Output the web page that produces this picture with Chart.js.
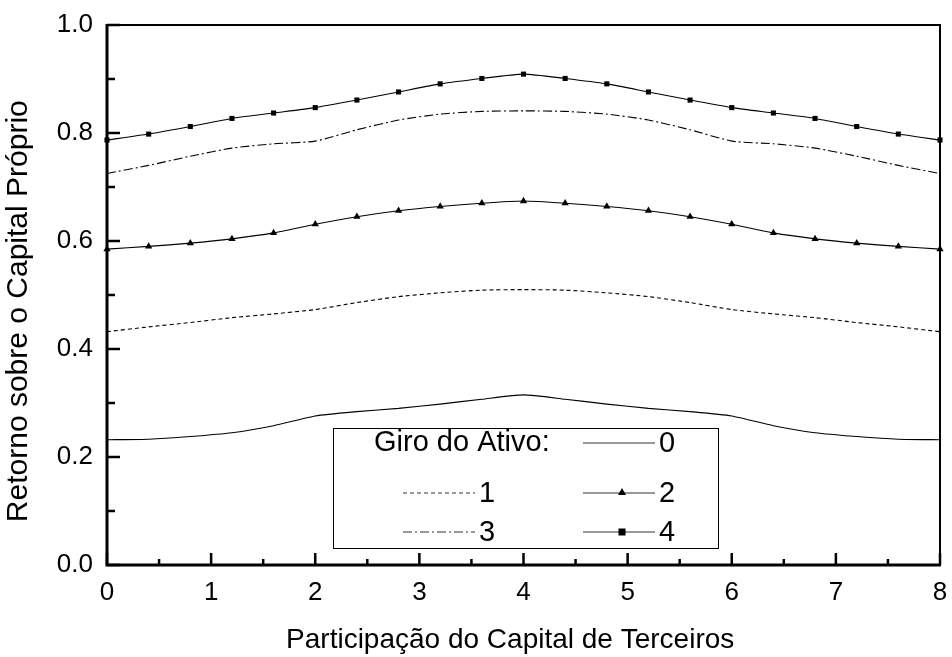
<!DOCTYPE html>
<html>
<head>
<meta charset="utf-8">
<script src="https://cdn.jsdelivr.net/npm/chart.js@4"></script>
<style>
html,body{margin:0;padding:0;background:#fff;}
#wrap{width:952px;height:657px;}
</style>
</head>
<body>
<div id="wrap"><canvas id="c" width="952" height="657"></canvas></div>
<script>
// ---- data ----
const xValues = [0,0.4,0.8,1.2,1.6,2.0,2.4,2.8,3.2,3.6,4.0,4.4,4.8,5.2,5.6,6.0,6.4,6.8,7.2,7.6,8.0];
const giro0 = [0.232,0.233,0.238,0.245,0.258,0.276,0.284,0.290,0.298,0.307,0.315,0.307,0.298,0.290,0.284,0.276,0.258,0.245,0.238,0.233,0.232];
const giro1 = [0.432,0.441,0.449,0.458,0.465,0.473,0.486,0.497,0.504,0.509,0.510,0.509,0.504,0.497,0.486,0.473,0.465,0.458,0.449,0.441,0.432];
const giro2 = [0.585,0.590,0.596,0.604,0.615,0.631,0.645,0.656,0.664,0.670,0.674,0.670,0.664,0.656,0.645,0.631,0.615,0.604,0.596,0.590,0.585];
const giro3 = [0.725,0.740,0.757,0.772,0.780,0.785,0.806,0.824,0.835,0.840,0.841,0.840,0.835,0.824,0.806,0.785,0.780,0.772,0.757,0.740,0.725];
const giro4 = [0.787,0.798,0.812,0.827,0.837,0.847,0.861,0.876,0.891,0.901,0.909,0.901,0.891,0.876,0.861,0.847,0.837,0.827,0.812,0.798,0.787];
const seriesLabels = ['0','1','2','3','4'];
const legendTitle = 'Giro do Ativo:';
const xTitle = 'Participação do Capital de Terceiros';
const yTitle = 'Retorno sobre o Capital Próprio';

const FONT = "'Liberation Sans', Arial, sans-serif";
const pts = arr => arr.map((v,i)=>({x:xValues[i], y:v}));

const styles = [
  {dash:[], point:false},
  {dash:[4,3], point:false},
  {dash:[], point:'triangle'},
  {dash:[9,3,2,3], point:false},
  {dash:[], point:'rect'}
];
const allSeries = [giro0,giro1,giro2,giro3,giro4];

const datasets = allSeries.map((arr,i)=>({
  label: seriesLabels[i],
  data: pts(arr),
  borderColor:'#000',
  backgroundColor:'#000',
  borderWidth:1.1,
  borderDash: styles[i].dash,
  pointStyle: styles[i].point || 'circle',
  pointRadius: styles[i].point ? (styles[i].point==='rect'?3.6:4.2) : 0,
  pointBorderWidth:0,
  tension:0.2,
  clip:false
}));

const framePlugin = {
  id:'frame',
  afterDatasetsDraw(chart){
    const {ctx, chartArea:a, scales} = chart;
    ctx.save();
    ctx.strokeStyle='#000';
    // frame
    ctx.lineWidth=2;
    ctx.strokeRect(a.left, a.top, a.right-a.left, a.bottom-a.top);
    ctx.lineWidth=3;
    ctx.beginPath();
    ctx.moveTo(a.left, a.top-1); ctx.lineTo(a.left, a.bottom);
    ctx.lineTo(a.right+1, a.bottom);
    ctx.stroke();
    // ticks inward
    ctx.lineWidth=2.5;
    for(let v=0; v<=8.0001; v+=0.5){
      const px = scales.x.getPixelForValue(v);
      const major = Math.abs(v-Math.round(v))<1e-6;
      const len = major?12:6;
      ctx.beginPath(); ctx.moveTo(px, a.bottom); ctx.lineTo(px, a.bottom-len); ctx.stroke();
    }
    for(let k=0;k<=10;k++){
      const v=k/10;
      const py = scales.y.getPixelForValue(v);
      const len = (k%2===0)?13:8;
      ctx.beginPath(); ctx.moveTo(a.left, py); ctx.lineTo(a.left+len, py); ctx.stroke();
    }
    // axis titles
    ctx.fillStyle='#000';
    ctx.textBaseline='middle';
    ctx.textAlign='center';
    ctx.font = "28px " + FONT;
    ctx.fillText(xTitle, a.left + (a.right-a.left)*0.484, a.bottom + 75);
    ctx.save();
    ctx.translate(a.left - 88, a.top + (a.bottom-a.top)*0.53);
    ctx.rotate(-Math.PI/2);
    ctx.font = "30px " + FONT;
    ctx.fillText(yTitle, 0, 0);
    ctx.restore();
    // legend
    const L = a.left + 226, T = a.top + 403, W = 385, H = 120;
    ctx.lineWidth=1;
    ctx.fillStyle='#fff';
    ctx.fillRect(L,T,W,H);
    ctx.strokeRect(L+0.5,T+0.5,W,H);
    ctx.fillStyle='#000';
    ctx.font = "29px " + FONT;
    ctx.textBaseline='middle';
    ctx.textAlign='left';
    const rows = [T+15, T+65, T+104];
    const colA = L+70, colB = L+250, lineLen=72;
    ctx.fillText(legendTitle, L+41, rows[0]);
    const items = [
      {x:colB, y:rows[0], i:0},
      {x:colA, y:rows[1], i:1},
      {x:colB, y:rows[1], i:2},
      {x:colA, y:rows[2], i:3},
      {x:colB, y:rows[2], i:4}
    ];
    items.forEach(it=>{
      const s = styles[it.i];
      ctx.save();
      ctx.lineWidth=1;
      ctx.strokeStyle='#333';
      ctx.setLineDash(s.dash);
      ctx.beginPath(); ctx.moveTo(it.x, it.y); ctx.lineTo(it.x+lineLen, it.y); ctx.stroke();
      ctx.restore();
      const cx = it.x + lineLen/2 + 3;
      if(s.point==='rect'){ ctx.fillRect(cx-3.5, it.y-3.5, 7, 7); }
      if(s.point==='triangle'){
        ctx.beginPath(); ctx.moveTo(cx, it.y-5); ctx.lineTo(cx+4, it.y+2); ctx.lineTo(cx-4, it.y+2); ctx.closePath(); ctx.fill();
      }
      ctx.fillText(seriesLabels[it.i], it.x+lineLen+4, it.y+1);
    });
    ctx.restore();
  }
};

new Chart(document.getElementById('c'), {
  type:'line',
  data:{datasets},
  options:{
    responsive:false,
    animation:false,
    devicePixelRatio:1,
    layout:{padding:{left:0, right:12, top:25, bottom:0}},
    plugins:{legend:{display:false}, tooltip:{enabled:false}},
    scales:{
      x:{
        type:'linear', min:0, max:8,
        grid:{display:false, drawTicks:false},
        border:{display:false},
        ticks:{stepSize:1, color:'#000', padding:12, font:{family:FONT, size:26},
          callback:v=>Number.isInteger(v)?String(v):''},
        afterFit(s){ s.height = 92; s.paddingLeft = 0; s.paddingRight = 0; }
      },
      y:{
        type:'linear', min:0, max:1.0,
        grid:{display:false, drawTicks:false},
        border:{display:false},
        ticks:{stepSize:0.2, color:'#000', padding:14, font:{family:FONT, size:26},
          callback:v=>v.toFixed(1)},
        afterFit(s){ s.width = 107; s.paddingTop = 0; s.paddingBottom = 0; }
      }
    }
  },
  plugins:[framePlugin]
});
</script>
</body>
</html>
